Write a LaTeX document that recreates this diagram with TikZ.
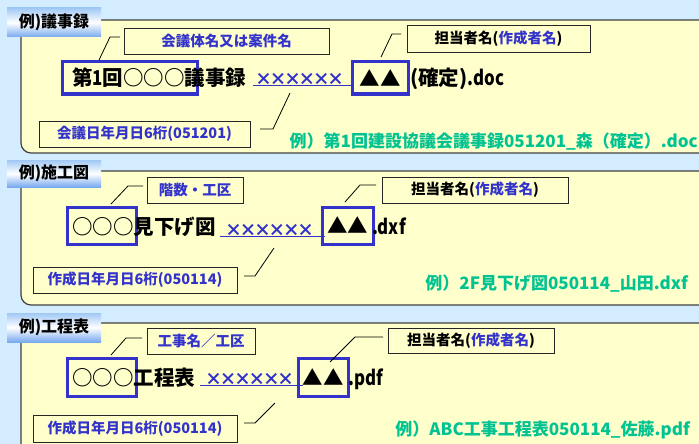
\documentclass[tikz,border=0pt]{standalone}
\usepackage{fontspec}
\setmainfont{Noto Sans CJK JP}
\usetikzlibrary{fit}
\definecolor{bgblue}{RGB}{212,236,255}
\definecolor{panelY}{RGB}{255,255,204}
\definecolor{myblue}{RGB}{51,51,204}
\definecolor{myGreen}{RGB}{0,195,145}
\definecolor{tabB}{RGB}{160,200,244}
\definecolor{tabB2}{RGB}{120,170,240}
\newcommand{\xmk}{\makebox[14.4pt][l]{×}}
\newcommand{\lat}[1]{\scalebox{0.82}[1]{#1}}
\tikzset{
 panel/.style={draw=black!75, line width=1.2pt, fill=panelY, rounded corners=10pt},
 tabbox/.style={top color=tabB, bottom color=tabB2, middle color=white, inner sep=0pt, font=\bfseries\fontsize{16}{16}\selectfont},
 lbl/.style={draw=black!85, line width=0.9pt, fill=panelY, font=\bfseries\fontsize{14.5}{15}\selectfont, text=myblue, inner sep=0pt},
 bbox/.style={draw=myblue, line width=3pt, inner sep=0pt},
 maintxt/.style={font=\bfseries\fontsize{20.5}{21}\selectfont, inner sep=0pt, anchor=base west},
 tri/.style={font=\bfseries\fontsize{20.5}{21}\selectfont, inner sep=0pt},
 xx/.style={text=myblue, font=\bfseries\fontsize{17}{17}\selectfont, inner sep=0pt, anchor=west},
 grn/.style={text=myGreen, font=\bfseries\fontsize{17}{17}\selectfont, inner sep=0pt, anchor=base east},
 lead/.style={draw=black, line width=0.8pt},
 uline/.style={draw=myblue, line width=0.9pt},
}
\begin{document}
\begin{tikzpicture}[x=1pt,y=-1pt]
\useasboundingbox (0,0) rectangle (699,444);
\fill[bgblue] (0,0) rectangle (699,444);
% panels
\draw[panel] (21,20) rectangle (712,153);
\draw[panel] (21,171) rectangle (712,305);
\draw[panel] (21,323) rectangle (712,470);

% ---------- panel 1 ----------
\node[tabbox, minimum width=94pt, minimum height=29pt] (t1) at (54,22.5) {例)議事録};
\node[lbl, minimum width=205pt, minimum height=26pt] (l1a) at (226.5,41) {会議体名又は案件名};
\node[lbl, minimum width=183pt, minimum height=27pt] (l1b) at (498.5,38.5) {\textcolor{black}{担当者名(}作成者名\textcolor{black}{)}};
\node[lbl, minimum width=211pt, minimum height=26pt] (l1c) at (144.5,134) {会議日年月日6桁(051201)};
\node[bbox, fit={(62,62) (197,94)}] (b1a) {};
\node[bbox, fit={(352,62) (408,94)}] (b1b) {};
\node[maintxt] (m1) at (72,85) {第\lat{1}回○○○議事録};
\node[tri] (tr1) at (b1b.center) {▲▲};
\node[maintxt] (e1) at (410,85) {(確定)\lat{.doc}};
\node[xx] (x1) at (255,79) {\xmk\xmk\xmk\xmk\xmk\xmk};
\coordinate (u1s) at (253,85); \coordinate (u1e) at (352,85);
\draw[uline] (u1s) -- (u1e);
\coordinate (p1a) at (99,60); \coordinate (q1a) at (110,37); \coordinate (r1a) at (120,37);
\draw[lead] (p1a) -- (q1a) -- (r1a);
\coordinate (p1b) at (381,57); \coordinate (q1b) at (392,34); \coordinate (r1b) at (401,34);
\draw[lead] (p1b) -- (q1b) -- (r1b);
\coordinate (p1c) at (290,93); \coordinate (q1c) at (273,129); \coordinate (r1c) at (260,129);
\draw[lead] (p1c) -- (q1c) -- (r1c);
\node[grn] (g1) at (698,147) {例）第1回建設協議会議事録051201\_森（確定）.doc};

% ---------- panel 2 ----------
\node[tabbox, minimum width=94pt, minimum height=27pt] (t2) at (54,173.5) {例)施工図};
\node[lbl, minimum width=96pt, minimum height=26pt] (l2a) at (195,190) {階数・工区};
\node[lbl, minimum width=186pt, minimum height=26pt] (l2b) at (475,190) {\textcolor{black}{担当者名(}作成者名\textcolor{black}{)}};
\node[lbl, minimum width=204pt, minimum height=26pt] (l2c) at (135,280) {作成日年月日6桁(050114)};
\node[bbox, fit={(67,207) (136,244)}] (b2a) {};
\node[bbox, fit={(322,207) (373,244)}] (b2b) {};
\node[maintxt] (m2) at (72,234) {○○○見下げ図};
\node[tri] (tr2) at (b2b.center) {▲▲};
\node[maintxt] (e2) at (372,234) {\lat{.dxf}};
\node[xx] (x2) at (225,230) {\xmk\xmk\xmk\xmk\xmk\xmk};
\coordinate (u2s) at (220,236); \coordinate (u2e) at (325,236);
\draw[uline] (u2s) -- (u2e);
\coordinate (p2a) at (111,204); \coordinate (q2a) at (128,186); \coordinate (r2a) at (143,186);
\draw[lead] (p2a) -- (q2a) -- (r2a);
\coordinate (p2b) at (345,202); \coordinate (q2b) at (360,185); \coordinate (r2b) at (376,185);
\draw[lead] (p2b) -- (q2b) -- (r2b);
\coordinate (p2c) at (274,248); \coordinate (q2c) at (255,276); \coordinate (r2c) at (244,276);
\draw[lead] (p2c) -- (q2c) -- (r2c);
\node[grn] (g2) at (688,289) {例）2F見下げ図050114\_山田.dxf};

% ---------- panel 3 ----------
\node[tabbox, minimum width=94pt, minimum height=29pt] (t3) at (54,327.5) {例)工程表};
\node[lbl, minimum width=108pt, minimum height=26pt] (l3a) at (201,341) {工事名／工区};
\node[lbl, minimum width=166pt, minimum height=25pt] (l3b) at (471,340.5) {\textcolor{black}{担当者名(}作成者名\textcolor{black}{)}};
\node[lbl, minimum width=204pt, minimum height=27pt] (l3c) at (135,428.5) {作成日年月日6桁(050114)};
\node[bbox, fit={(67,358) (136,396)}] (b3a) {};
\node[bbox, fit={(298,358) (348,396)}] (b3b) {};
\node[maintxt] (m3) at (72,385) {○○○工程表};
\node[tri] (tr3) at (b3b.center) {▲▲};
\node[maintxt] (e3) at (348,385) {\lat{.pdf}};
\node[xx] (x3) at (205,379) {\xmk\xmk\xmk\xmk\xmk\xmk};
\coordinate (u3s) at (200,385); \coordinate (u3e) at (303,385);
\draw[uline] (u3s) -- (u3e);
\coordinate (p3a) at (111,355); \coordinate (q3a) at (126,338); \coordinate (r3a) at (142,338);
\draw[lead] (p3a) -- (q3a) -- (r3a);
\coordinate (p3b) at (330,362); \coordinate (q3b) at (355,337); \coordinate (r3b) at (383,337);
\draw[lead] (p3b) -- (q3b) -- (r3b);
\coordinate (p3c) at (275,403); \coordinate (q3c) at (255,423); \coordinate (r3c) at (244,423);
\draw[lead] (p3c) -- (q3c) -- (r3c);
\node[grn] (g3) at (690,435) {例）ABC工事工程表050114\_佐藤.pdf};
\end{tikzpicture}
\end{document}
